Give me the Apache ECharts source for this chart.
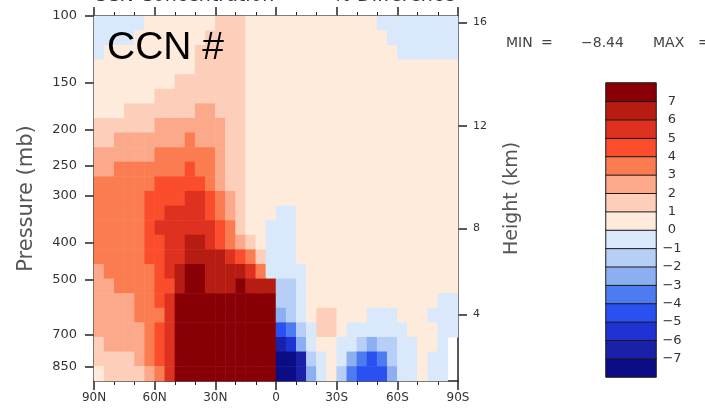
<!DOCTYPE html>
<html>
<head>
<meta charset="utf-8">
<script src="https://cdn.jsdelivr.net/npm/echarts@6/dist/echarts.min.js"></script>
<style>
  html, body { margin: 0; background: #fff; }
  #chart { width: 705px; height: 412px; }
</style>
</head>
<body>
<div id="chart"></div>
<script>
// column centres, degrees (N positive), 90N -> 90S
const lats = [87.5, 82.5, 77.5, 72.5, 67.5, 62.5, 57.5, 52.5, 47.5, 42.5, 37.5, 32.5,
  27.5, 22.5, 17.5, 12.5, 7.5, 2.5, -2.5, -7.5, -12.5, -17.5, -22.5, -27.5,
  -32.5, -37.5, -42.5, -47.5, -52.5, -57.5, -62.5, -67.5, -72.5, -77.5, -82.5, -87.5];

// row centres (mb), top -> bottom, evenly spaced in log-pressure
const levels = [105, 114, 125, 137, 149, 163, 179, 195, 214, 234, 255, 279, 305,
  334, 365, 399, 436, 477, 522, 570, 624, 682, 746, 815, 892];

// CCN change, one row per level, one value per latitude column
const ccnRows = [
  [-.5,-.5,-.5,-.5,-.5,.5, .5,.5,.5,.5,.5,.5, 1.5,1.5,1.5,.5,.5,.5, .5,.5,.5,.5,.5,.5, .5,.5,.5,.5,-.5,-.5, -.5,-.5,-.5,-.5,-.5,-.5],
  [-.5,-.5,-.5,-.5,.5,.5, .5,.5,.5,.5,.5,1.5, 1.5,1.5,1.5,.5,.5,.5, .5,.5,.5,.5,.5,.5, .5,.5,.5,.5,.5,-.5, -.5,-.5,-.5,-.5,-.5,-.5],
  [-.5,.5,.5,.5,.5,.5, .5,.5,.5,.5,1.5,1.5, 1.5,1.5,1.5,.5,.5,.5, .5,.5,.5,.5,.5,.5, .5,.5,.5,.5,.5,.5, -.5,-.5,-.5,-.5,-.5,-.5],
  [.5,.5,.5,.5,.5,.5, .5,.5,.5,.5,1.5,1.5, 1.5,1.5,1.5,.5,.5,.5, .5,.5,.5,.5,.5,.5, .5,.5,.5,.5,.5,.5, .5,.5,.5,.5,.5,.5],
  [.5,.5,.5,.5,.5,.5, .5,.5,1.5,1.5,1.5,1.5, 1.5,1.5,1.5,.5,.5,.5, .5,.5,.5,.5,.5,.5, .5,.5,.5,.5,.5,.5, .5,.5,.5,.5,.5,.5],
  [.5,.5,.5,.5,.5,.5, 1.5,1.5,1.5,1.5,1.5,1.5, 1.5,1.5,1.5,.5,.5,.5, .5,.5,.5,.5,.5,.5, .5,.5,.5,.5,.5,.5, .5,.5,.5,.5,.5,.5],
  [.5,.5,.5,1.5,1.5,1.5, 1.5,1.5,1.5,1.5,2.5,2.5, 1.5,1.5,1.5,.5,.5,.5, .5,.5,.5,.5,.5,.5, .5,.5,.5,.5,.5,.5, .5,.5,.5,.5,.5,.5],
  [1.5,1.5,1.5,1.5,1.5,1.5, 2.5,2.5,2.5,2.5,2.5,2.5, 2.5,1.5,1.5,.5,.5,.5, .5,.5,.5,.5,.5,.5, .5,.5,.5,.5,.5,.5, .5,.5,.5,.5,.5,.5],
  [1.5,1.5,2.5,2.5,2.5,2.5, 2.5,2.5,2.5,3.5,2.5,2.5, 2.5,1.5,1.5,.5,.5,.5, .5,.5,.5,.5,.5,.5, .5,.5,.5,.5,.5,.5, .5,.5,.5,.5,.5,.5],
  [2.5,2.5,2.5,2.5,2.5,2.5, 3.5,3.5,3.5,3.5,3.5,3.5, 2.5,1.5,1.5,.5,.5,.5, .5,.5,.5,.5,.5,.5, .5,.5,.5,.5,.5,.5, .5,.5,.5,.5,.5,.5],
  [2.5,2.5,3.5,3.5,3.5,3.5, 3.5,3.5,3.5,4.5,3.5,3.5, 2.5,1.5,1.5,.5,.5,.5, .5,.5,.5,.5,.5,.5, .5,.5,.5,.5,.5,.5, .5,.5,.5,.5,.5,.5],
  [3.5,3.5,3.5,3.5,3.5,3.5, 4.5,4.5,4.5,4.5,4.5,3.5, 2.5,1.5,1.5,.5,.5,.5, .5,.5,.5,.5,.5,.5, .5,.5,.5,.5,.5,.5, .5,.5,.5,.5,.5,.5],
  [3.5,3.5,3.5,3.5,3.5,4.5, 4.5,4.5,4.5,5.5,5.5,4.5, 3.5,2.5,1.5,.5,.5,.5, .5,.5,.5,.5,.5,.5, .5,.5,.5,.5,.5,.5, .5,.5,.5,.5,.5,.5],
  [3.5,3.5,3.5,3.5,3.5,4.5, 4.5,5.5,5.5,5.5,5.5,4.5, 3.5,2.5,1.5,.5,.5,.5, -.5,-.5,.5,.5,.5,.5, .5,.5,.5,.5,.5,.5, .5,.5,.5,.5,.5,.5],
  [3.5,3.5,3.5,3.5,3.5,4.5, 5.5,5.5,5.5,5.5,5.5,5.5, 4.5,3.5,1.5,.5,.5,-.5, -.5,-.5,.5,.5,.5,.5, .5,.5,.5,.5,.5,.5, .5,.5,.5,.5,.5,.5],
  [3.5,3.5,3.5,3.5,3.5,4.5, 4.5,5.5,5.5,6.5,6.5,5.5, 4.5,3.5,2.5,1.5,.5,-.5, -.5,-.5,.5,.5,.5,.5, .5,.5,.5,.5,.5,.5, .5,.5,.5,.5,.5,.5],
  [3.5,3.5,3.5,3.5,3.5,4.5, 4.5,5.5,5.5,6.5,6.5,6.5, 6.5,5.5,4.5,3.5,1.5,-.5, -.5,-.5,.5,.5,.5,.5, .5,.5,.5,.5,.5,.5, .5,.5,.5,.5,.5,.5],
  [2.5,3.5,3.5,3.5,3.5,3.5, 4.5,5.5,6.5,8,8,6.5, 6.5,6.5,6.5,5.5,3.5,-.5, -.5,-.5,-.5,.5,.5,.5, .5,.5,.5,.5,.5,.5, .5,.5,.5,.5,.5,.5],
  [2.5,2.5,3.5,3.5,3.5,3.5, 4.5,4.5,6.5,8,8,6.5, 6.5,6.5,8,6.5,6.5,6.5, -1.5,-1.5,-.5,.5,.5,.5, .5,.5,.5,.5,.5,.5, .5,.5,.5,.5,.5,.5],
  [2.5,2.5,2.5,2.5,3.5,3.5, 4.5,5.5,8,8,8,8, 8,8,8,8,8,8, -1.5,-1.5,-.5,.5,.5,.5, .5,.5,.5,.5,.5,.5, .5,.5,.5,.5,-.5,-.5],
  [2.5,2.5,2.5,2.5,3.5,3.5, 3.5,5.5,8,8,8,8, 8,8,8,8,8,8, -2.5,-1.5,-.5,.5,1.5,1.5, .5,.5,.5,-.5,-.5,-.5, .5,.5,.5,-.5,-.5,-.5],
  [2.5,2.5,2.5,2.5,2.5,3.5, 4.5,5.5,8,8,8,8, 8,8,8,8,8,8, -4.5,-3.5,-1.5,-.5,1.5,1.5, .5,-.5,-.5,-.5,-.5,-.5, -.5,.5,.5,.5,-.5,-.5],
  [1.5,2.5,2.5,2.5,2.5,3.5, 4.5,5.5,8,8,8,8, 8,8,8,8,8,8, -6.5,-5.5,-2.5,-.5,.5,.5, -.5,-.5,-1.5,-2.5,-1.5,-1.5, -.5,-.5,.5,.5,-.5,null],
  [1.5,1.5,1.5,1.5,2.5,3.5, 4.5,5.5,8,8,8,8, 8,8,8,8,8,8, -8,-8,-6.5,-1.5,-.5,.5, -.5,-2.5,-3.5,-4.5,-3.5,-1.5, -.5,-.5,.5,-.5,-.5,null],
  [.5,1.5,1.5,1.5,1.5,2.5, 3.5,5.5,8,8,8,8, 8,8,8,8,8,8, -8,-8,-6.5,-2.5,-.5,.5, -1.5,-3.5,-4.5,-4.5,-4.5,-2.5, -.5,-.5,.5,-.5,-.5,null]
];

// contour levels and fill colours (lowest bin first)
const breaks = [-7, -6, -5, -4, -3, -2, -1, 0, 1, 2, 3, 4, 5, 6, 7];
const binColors = ['#0c0c86', '#1a20a8', '#1f33d4', '#2b50f2', '#4c7cef', '#8caff2', '#b7cef7', '#d9e9fb',
  '#feebdc', '#fdceba', '#fca98b', '#fb7c50', '#fb4d2b', '#df311f', '#b71c12', '#880006'];
const cbLabels = ['\u22127', '\u22126', '\u22125', '\u22124', '\u22123', '\u22122', '\u22121',
  '0', '1', '2', '3', '4', '5', '6', '7'];

// axis ticks
const pressureTicks = [100, 150, 200, 250, 300, 400, 500, 700, 850];
const pTop = 100, pBottom = 930;
const heightTicks = ['16', '12', '8', '4'];
const heightPressures = [104, 196, 366, 619];

const axisColor = '#222';
const labelColor = '#333';
const font = 'DejaVu Sans';

const cells = [];
ccnRows.forEach((row, i) => {
  row.forEach((v, j) => {
    if (v !== null) cells.push([j, i, v]);
  });
});

// one cell per colour bin for the colour bar (value = middle of the bin)
const cbCells = binColors.map((c, k) => [0, k, k === 0 ? breaks[0] - 0.5 : breaks[k - 1] + 0.5]);

const pieces = binColors.map((c, k) => {
  if (k === 0) return { lt: breaks[0], color: c };
  if (k === binColors.length - 1) return { gte: breaks[k - 1], color: c };
  return { gte: breaks[k - 1], lt: breaks[k], color: c };
});

const latLabel = v => v > 0 ? v + 'N' : (v < 0 ? (-v) + 'S' : '0');

const lineStyle = { color: axisColor, width: 1.5 };

const chart = echarts.init(document.getElementById('chart'));
chart.setOption({
  animation: false,
  backgroundColor: '#fff',
  grid: [
    { left: 94, top: 16, width: 364, height: 365 },
    { left: 606, top: 83, width: 50, height: 294 }
  ],
  visualMap: {
    type: 'piecewise',
    show: false,
    seriesIndex: [0, 1],
    dimension: 2,
    pieces: pieces
  },
  xAxis: [
    { type: 'category', gridIndex: 0, data: lats, show: false },
    {
      type: 'value', gridIndex: 0, position: 'bottom', min: -90, max: 90, interval: 30, inverse: true,
      axisLine: { show: true, onZero: false, lineStyle },
      axisTick: { show: true, length: 9, lineStyle },
      minorTick: { show: true, splitNumber: 3, length: 4, lineStyle: { color: axisColor } },
      splitLine: { show: false },
      axisLabel: { formatter: latLabel, fontSize: 12, fontFamily: font, color: labelColor, margin: 11 }
    },
    {
      type: 'value', gridIndex: 0, position: 'top', min: -90, max: 90, interval: 30, inverse: true,
      axisLine: { show: true, onZero: false, lineStyle },
      axisTick: { show: true, length: 9, lineStyle },
      minorTick: { show: true, splitNumber: 3, length: 4, lineStyle: { color: axisColor } },
      splitLine: { show: false },
      axisLabel: { show: false }
    },
    { type: 'category', gridIndex: 1, data: ['cb'], show: false }
  ],
  yAxis: [
    { type: 'category', gridIndex: 0, data: levels, inverse: true, show: false },
    {
      type: 'value', gridIndex: 0, position: 'left', inverse: true,
      min: Math.log10(pTop), max: Math.log10(pBottom),
      axisLine: { show: true, onZero: false, lineStyle },
      axisTick: { show: true, length: 9, lineStyle, customValues: pressureTicks.map(p => Math.log10(p)) },
      splitLine: { show: false },
      axisLabel: {
        customValues: pressureTicks.map(p => Math.log10(p)),
        formatter: v => String(Math.round(Math.pow(10, v))),
        fontSize: 13, fontFamily: font, color: labelColor, margin: 17
      },
      name: 'Pressure (mb)', nameLocation: 'middle', nameRotate: 90, nameGap: 57,
      nameTextStyle: { fontSize: 21, fontFamily: font, color: '#555' }
    },
    {
      type: 'value', gridIndex: 0, position: 'right', inverse: true,
      min: Math.log10(pTop), max: Math.log10(pBottom),
      axisLine: { show: true, onZero: false, lineStyle },
      axisTick: { show: true, length: 9, lineStyle, customValues: heightPressures.map(p => Math.log10(p)) },
      splitLine: { show: false },
      axisLabel: {
        customValues: heightPressures.map(p => Math.log10(p)),
        formatter: v => {
          const k = heightPressures.findIndex(p => Math.abs(Math.log10(p) - v) < 1e-6);
          return k < 0 ? '' : heightTicks[k];
        },
        fontSize: 11, fontFamily: font, color: labelColor, margin: 15
      },
      name: 'Height (km)', nameLocation: 'middle', nameRotate: 90, nameGap: 45,
      nameTextStyle: { fontSize: 19, fontFamily: font, color: '#555' }
    },
    { type: 'category', gridIndex: 1, data: binColors.map((c, k) => k), show: false },
    {
      type: 'value', gridIndex: 1, position: 'right', min: 0, max: 16, interval: 1,
      axisLine: { show: false }, axisTick: { show: false }, splitLine: { show: false },
      axisLabel: {
        formatter: v => (v >= 1 && v <= 15) ? cbLabels[v - 1] : '',
        fontSize: 13, fontFamily: font, color: labelColor, margin: 16, align: 'center'
      }
    }
  ],
  series: [
    {
      type: 'heatmap',
      xAxisIndex: 0, yAxisIndex: 0,
      data: cells,
      silent: true,
      emphasis: { disabled: true },
      progressive: 0
    },
    {
      type: 'heatmap',
      xAxisIndex: 3, yAxisIndex: 3,
      data: cbCells,
      silent: true,
      emphasis: { disabled: true },
      itemStyle: { borderColor: '#1a1a1a', borderWidth: 1 }
    }
  ],
  graphic: [
    { type: 'text', z: 100, left: 93, top: -13, style: { text: 'CCN Concentration', font: '19px "DejaVu Sans"', fill: '#333' } },
    { type: 'text', z: 100, left: 333, top: -13, style: { text: '% Difference', font: '19px "DejaVu Sans"', fill: '#333' } },
    { type: 'text', z: 100, left: 107, top: 29, style: { text: 'CCN #', font: '39px "Liberation Sans"', fill: '#000' } },
    { type: 'text', z: 100, left: 506, top: 36, style: { text: 'MIN', font: '14px "DejaVu Sans"', fill: '#444' } },
    { type: 'text', z: 100, left: 541, top: 36, style: { text: '=', font: '14px "DejaVu Sans"', fill: '#444' } },
    { type: 'text', z: 100, left: 581, top: 36, style: { text: '\u22128.44', font: '14px "DejaVu Sans"', fill: '#444' } },
    { type: 'text', z: 100, left: 653, top: 36, style: { text: 'MAX', font: '14px "DejaVu Sans"', fill: '#444' } },
    { type: 'text', z: 100, left: 698, top: 36, style: { text: '=', font: '14px "DejaVu Sans"', fill: '#444' } }
  ]
});
</script>
</body>
</html>
